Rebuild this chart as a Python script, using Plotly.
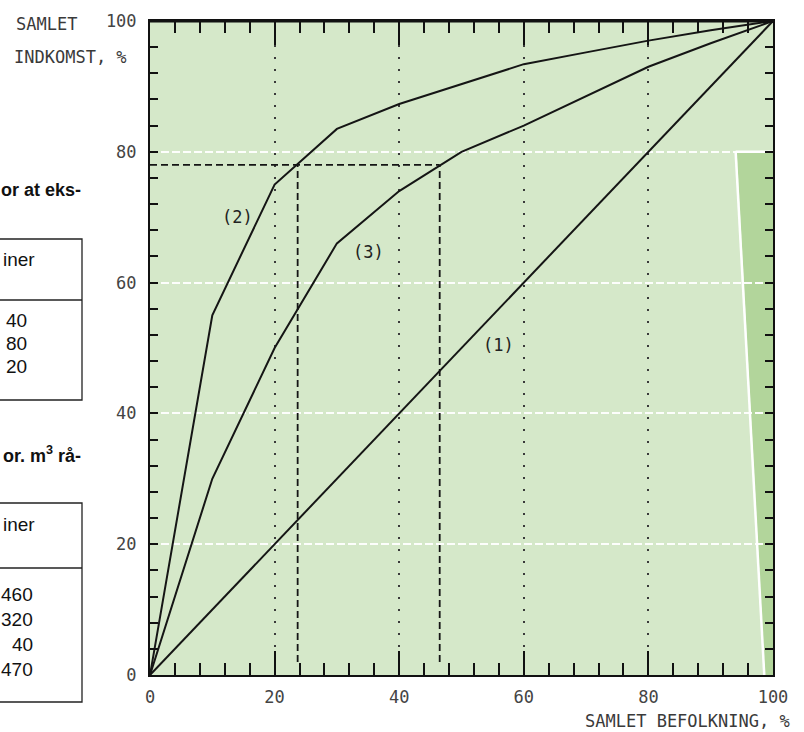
import plotly.graph_objects as go

# ---- data ----
pop_share = [0, 10, 20, 30, 40, 50, 60, 70, 80, 90, 100]          # SAMLET BEFOLKNING, %
curve1 = [0, 10, 20, 30, 40, 50, 60, 70, 80, 90, 100]             # (1) equal distribution
curve2 = [0, 55, 75, 83.5, 87.3, 90.4, 93.4, 95.2, 97.0, 98.6, 100]  # (2)
curve3 = [0, 30, 50, 66, 74, 80, 84, 88.5, 93.0, 96.6, 100]          # (3)
curve_names = ["(1)", "(2)", "(3)"]
ref_income = 78            # dashed reference level, % of income
ref_pop = [23.7, 46.5]     # population shares where curves (2) and (3) reach it
tick_vals = [0, 20, 40, 60, 80, 100]
tick_text = ["0", "20", "40", "60", "80", "100"]

# table fragments (cut off at the page edge)
table1_head = "or at eks-"
table1_col = "iner"
table1_vals = ["40", "80", "20"]
table2_head = "or. m<sup>3</sup> rå-"
table2_col = "iner"
table2_vals = ["460", "320", "40", "470"]

# ---- geometry helpers (page pixels -> paper) ----
W, H = 804, 732
L, R, T, B = 150, 773, 21, 675
def px(x):
    return (x - L) / (R - L)
def py(y):
    return (B - y) / (B - T)

mono = "DejaVu Sans Mono"
sans = "Liberation Sans, Arial, sans-serif"

fig = go.Figure()
for ys in (curve1, curve2, curve3):
    fig.add_trace(go.Scatter(x=pop_share, y=ys, mode="lines",
                             line=dict(color="#151515", width=2),
                             showlegend=False, hoverinfo="skip"))

# dashed reference lines
dash = dict(color="#151515", width=1.8, dash="7px,4px")
fig.add_trace(go.Scatter(x=[0, ref_pop[1]], y=[ref_income, ref_income], mode="lines",
                         line=dash, showlegend=False, hoverinfo="skip"))
for p in ref_pop:
    fig.add_trace(go.Scatter(x=[p, p], y=[2, ref_income], mode="lines",
                             line=dash, showlegend=False, hoverinfo="skip"))

shapes = []
# darker green strip at right (print artefact)
shapes.append(dict(type="path", xref="x", yref="y", layer="below",
                   path="M 94.2,80 L 100,80 L 100,0 L 98.7,0 Z",
                   fillcolor="#b2d59b", line=dict(width=0)))
shapes.append(dict(type="path", xref="x", yref="y", layer="below",
                   path="M 94.0,80 L 98.6,0",
                   line=dict(color="white", width=2.5)))
shapes.append(dict(type="line", xref="x", yref="y", layer="below",
                   x0=94.0, x1=100, y0=80, y1=80,
                   line=dict(color="white", width=2.5)))
# thicker top frame
shapes.append(dict(type="line", xref="paper", yref="paper", x0=0, x1=1, y0=1, y1=1,
                   line=dict(color="#111", width=3)))

# table frames
def table(top, sep, bottom):
    shapes.append(dict(type="rect", xref="paper", yref="paper",
                       x0=px(-10), x1=px(82), y0=py(bottom), y1=py(top),
                       line=dict(color="#222", width=1.3)))
    shapes.append(dict(type="line", xref="paper", yref="paper",
                       x0=px(-10), x1=px(82), y0=py(sep), y1=py(sep),
                       line=dict(color="#222", width=1.3)))
table(239, 300, 400)
table(503, 568, 702)

ann = []
def text(t, x, y, anchor="left", size=17, font=mono, color="#3a3a3a", bold=False):
    ann.append(dict(text=("<b>%s</b>" % t) if bold else t, xref="paper", yref="paper",
                    x=px(x), y=py(y), xanchor=anchor, yanchor="middle",
                    showarrow=False, font=dict(family=font, size=size, color=color)))

# axis titles
text("SAMLET", 14, 24)
text("INDKOMST, %", 12, 57)
text("SAMLET BEFOLKNING, %", 792, 721, anchor="right")

# curve labels (data coordinates)
for name, (lx, ly) in zip(curve_names, [(56, 50.5), (14, 70), (35, 64.7)]):
    ann.append(dict(text=name, xref="x", yref="y", x=lx, y=ly, showarrow=False,
                    font=dict(family=mono, size=17, color="#222")))

# table texts
text(table1_head, 83, 190, anchor="right", size=18, font=sans, color="#111", bold=True)
text(table1_col, 1, 259, size=19, font=sans, color="#111")
for i, v in enumerate(table1_vals):
    text(v, 29, 320 + 23 * i, anchor="right", size=19, font=sans, color="#111")
text(table2_head, 83, 455, anchor="right", size=18, font=sans, color="#111", bold=True)
text(table2_col, 1, 524, size=19, font=sans, color="#111")
for i, v in enumerate(table2_vals):
    text(v, 35, 594 + 25 * i, anchor="right", size=19, font=sans, color="#111")

axis_common = dict(range=[0, 100], tickmode="array", tickvals=tick_vals, ticktext=tick_text,
                   ticks="inside", tickcolor="#111", tickwidth=1.5,
                   showline=True, linecolor="#111", linewidth=2, mirror="ticks",
                   zeroline=False, tickfont=dict(family=mono, size=17, color="#444"),
                   fixedrange=True)

fig.update_layout(
    width=W, height=H,
    margin=dict(l=L, r=W - R, t=T, b=H - B),
    paper_bgcolor="white", plot_bgcolor="#d5e8c9",
    xaxis=dict(**axis_common, ticklen=24,
               minor=dict(dtick=4, tick0=0, ticks="inside", ticklen=12,
                          tickwidth=1.5, tickcolor="#111", showgrid=False),
               showgrid=True, gridcolor="#3a3a3a", gridwidth=1.5, griddash="2px,10px",
               ticklabelstandoff=6),
    yaxis=dict(**axis_common, ticklen=8,
               minor=dict(dtick=4, tick0=0, ticks="inside", ticklen=8,
                          tickwidth=1.5, tickcolor="#111", showgrid=False),
               showgrid=True, gridcolor="rgba(255,255,255,0.95)", gridwidth=2,
               griddash="8px,3px", ticklabelstandoff=8),
    shapes=shapes, annotations=ann,
)

fig.write_html("out.html", config={"displayModeBar": False},
               post_script="document.body.style.margin='0px';document.body.style.overflow='hidden';")
